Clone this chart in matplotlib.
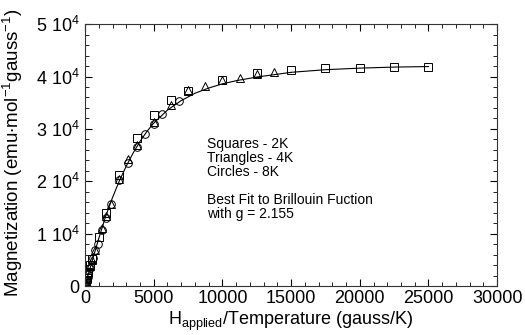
"""
Magnetization vs H/T for three temperatures with the Brillouin fit curve.
Saves the figure as out.png.
"""

import matplotlib
matplotlib.use('Agg')
import matplotlib.pyplot as plt
from matplotlib.ticker import MultipleLocator, FuncFormatter

# squares - 2K
hSquares = [50, 100, 150, 250, 375, 500, 1000, 1500, 2500, 3750, 5000, 6250, 7500,
			10000, 12500, 15000, 17500, 20000, 22500, 25000]
mSquares = [500, 1000, 1500, 2600, 4000, 5200, 9400, 13900, 21200, 28200, 32600, 35500, 37200,
			39400, 40700, 41200, 41600, 41700, 41900, 41800]

# triangles - 4K
hTriangles = [50, 125, 250, 375, 500, 750, 1250, 1500, 1875, 2500, 3125, 3750, 5000,
			6250, 7500, 8750, 10000, 11250, 12500, 13750]
mTriangles = [500, 1300, 2600, 3800, 5000, 6900, 11000, 13300, 15700, 20500, 24200, 26900, 31400,
			34500, 37400, 38200, 39300, 39700, 40500, 40900]

# circles - 8K
hCircles = [30, 60, 125, 190, 250, 375, 560, 750, 940, 1250, 1560, 1875, 2500,
			3125, 3750, 4375, 5000, 5625, 6875]
mCircles = [300, 600, 1200, 1800, 2400, 3500, 5300, 6800, 8100, 10700, 13000, 15600, 20200,
			23500, 26600, 29000, 31000, 32800, 35400]

# Brillouin fit curve
hFit = [0, 250, 500, 1000, 1500, 2000, 2500, 3000, 3500, 4000, 4500, 5000, 6000, 7000,
		8000, 9000, 10000, 11000, 12500, 15000, 17500, 20000, 22500, 25000]
mFit = [0, 2350, 4650, 9100, 13300, 16900, 20100, 22900, 25400, 27600, 29500, 31100, 33600, 35400,
		36800, 37800, 38600, 39200, 39900, 40800, 41300, 41600, 41800, 41900]

textLines = ['Squares - 2K', 'Triangles - 4K', 'Circles - 8K', '', 'Best Fit to Brillouin Fuction', 'with g = 2.155']


def yLabelFormat(value, pos):
	if abs(value) < 1:
		return '0'
	return r'%d 10$^{4}$' % round(value / 1e4)


def plotMagnetization():
	plt.rcParams['font.family'] = ['Liberation Sans', 'DejaVu Sans']
	plt.rcParams['mathtext.fontset'] = 'custom'
	plt.rcParams['mathtext.rm'] = 'Liberation Sans'
	plt.rcParams['mathtext.it'] = 'Liberation Sans'

	fig = plt.figure(figsize=(5.25, 3.35), dpi=100)
	ax = fig.add_axes([0.162, 0.146, 0.785, 0.782])

	ax.plot(hFit, mFit, color='black', linewidth=0.8, zorder=1)
	markerStyle = dict(linestyle='None', markerfacecolor='none', markeredgecolor='black',
					markeredgewidth=0.7, markersize=5.5, zorder=2)
	ax.plot(hSquares, mSquares, marker='s', **markerStyle)
	ax.plot(hTriangles, mTriangles, marker='^', **markerStyle)
	ax.plot(hCircles, mCircles, marker='o', **markerStyle)

	ax.set_xlim(0, 30000)
	ax.set_ylim(0, 50000)
	ax.xaxis.set_major_locator(MultipleLocator(5000))
	ax.xaxis.set_minor_locator(MultipleLocator(1000))
	ax.yaxis.set_major_locator(MultipleLocator(10000))
	ax.yaxis.set_minor_locator(MultipleLocator(2000))
	ax.yaxis.set_major_formatter(FuncFormatter(yLabelFormat))

	ax.tick_params(which='both', direction='in', top=True, right=True, labelsize=13)
	ax.tick_params(axis='x', pad=3)
	ax.tick_params(axis='y', pad=4)
	ax.tick_params(which='major', length=5, width=0.8)
	ax.tick_params(which='minor', length=3, width=0.6)
	for spine in ax.spines.values():
		spine.set_linewidth(0.8)
		spine.set_color('#333333')

	ax.set_xlabel(r'H$_{\mathrm{applied}}$/Temperature (gauss/K)', fontsize=13)
	ax.xaxis.set_label_coords(0.5, -0.09)
	ax.set_ylabel(r'Magnetization (emu$\bullet$mol$^{-1}$gauss$^{-1}$)', fontsize=13.5)
	ax.yaxis.set_label_coords(-0.146, 0.51)

	# annotation block
	ax.text(0.296, 0.57, '\n'.join(textLines), transform=ax.transAxes, fontsize=10,
			va='top', ha='left', linespacing=1.0)

	fig.savefig('out.png', dpi=100)


plotMagnetization()
